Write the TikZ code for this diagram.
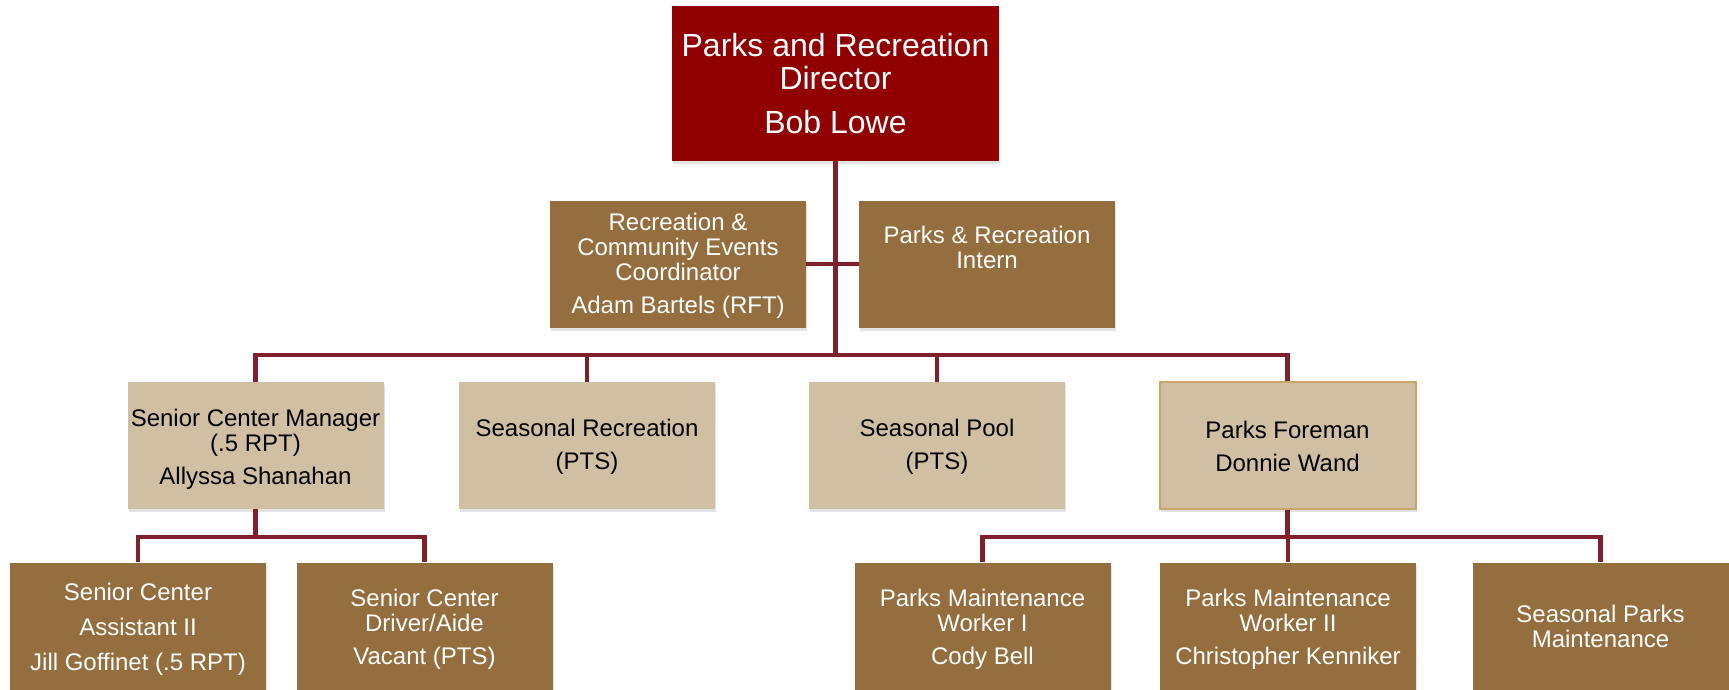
\documentclass[tikz,border=0pt]{standalone}
\usepackage{fontspec}
\setmainfont{Liberation Sans}
\usetikzlibrary{shadows}
\definecolor{dirred}{RGB}{144,0,0}
\definecolor{brownbox}{RGB}{148,110,62}
\definecolor{tanbox}{RGB}{208,191,163}
\definecolor{conn}{RGB}{128,32,44}
\definecolor{goldline}{RGB}{200,165,105}
\newcommand{\liftby}[1]{\rule{0pt}{#1}}
\begin{document}
\begin{tikzpicture}[x=1pt,y=-1pt,
  box/.style={rectangle, inner sep=0pt, align=center, minimum width=256pt, minimum height=127pt,
    drop shadow={shadow xshift=1pt, shadow yshift=-3pt, opacity=0.22}},
  small/.style={font=\fontsize{24}{25}\selectfont},
  dark/.style={box, small, fill=brownbox, text=white},
  light/.style={box, small, fill=tanbox, text=black},
  head/.style={box, fill=dirred, text=white, minimum width=327pt, minimum height=154pt,
    font=\fontsize{32}{33}\selectfont},
  link/.style={draw=conn, line width=4.5pt, line join=miter}]
\useasboundingbox (0,0) rectangle (1729,690);
\fill[white] (0,0) rectangle (1729,690);

\node[head] (dir) at (835.5,83.5) {Parks and Recreation\\Director\\[11pt]Bob Lowe};
\node[dark] (rcc) at (678,264) {\liftby{21pt}Recreation \&\\Community Events\\Coordinator\\[8pt]Adam Bartels (RFT)};
\node[dark] (int) at (987,264) {\liftby{24pt}Parks \& Recreation\\Intern\\[8pt]\strut};

\node[light] (scm) at (255.5,445.5) {\liftby{24pt}Senior Center Manager\\(.5 RPT)\\[8pt]Allyssa Shanahan};
\node[light] (srec) at (587,445.5) {\liftby{20pt}Seasonal Recreation\\[8pt](PTS)};
\node[light] (pool) at (937,445.5) {\liftby{20pt}Seasonal Pool\\[8pt](PTS)};
\node[light, draw=goldline, line width=2pt] (pf) at (1287.5,445.5) {\liftby{19pt}Parks Foreman\\[8pt]Donnie Wand};

\node[dark] (sca) at (138,626) {\liftby{24pt}Senior Center\\[9.5pt]Assistant II\\[10pt]Jill Goffinet (.5 RPT)};
\node[dark] (scd) at (424.5,626) {\liftby{23pt}Senior Center\\Driver/Aide\\[8pt]Vacant (PTS)};
\node[dark] (pmw1) at (982.5,626) {\liftby{23pt}Parks Maintenance\\Worker I\\[8pt]Cody Bell};
\node[dark] (pmw2) at (1288,626) {\liftby{23pt}Parks Maintenance\\Worker II\\[8pt]Christopher Kenniker};
\node[dark] (spm) at (1600.5,626) {Seasonal Parks\\Maintenance};

\coordinate (bus) at (835.5,355);
\coordinate (mbus) at (255.5,537);
\coordinate (fbus) at (1287.5,537);

\draw[link] (dir.south) -- (bus);
\draw[link] (rcc.east) -- (int.west);
\draw[link] (bus) -| (scm.north);
\draw[link] (bus) -| (srec.north);
\draw[link] (bus) -| (pool.north);
\draw[link] (bus) -| (pf.north);

\draw[link] (scm.south) -- (mbus);
\draw[link] (mbus) -| (sca.north);
\draw[link] (mbus) -| (scd.north);

\draw[link] (pf.south) -- (fbus);
\draw[link] (fbus) -| (pmw1.north);
\draw[link] (fbus) -| (pmw2.north);
\draw[link] (fbus) -| (spm.north);
\end{tikzpicture}
\end{document}
